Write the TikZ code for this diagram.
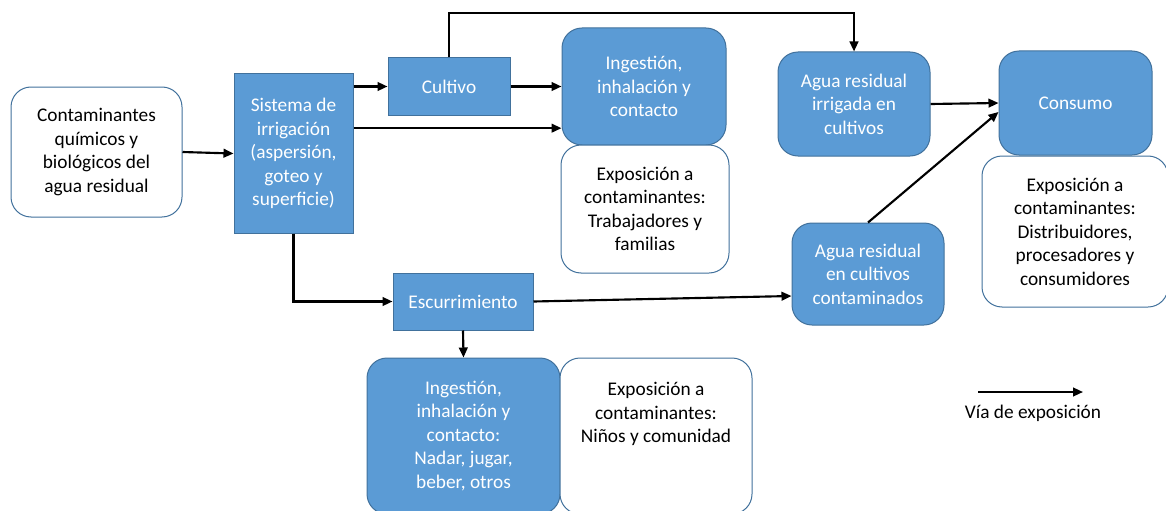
\documentclass[tikz,border=0pt]{standalone}
\usepackage{fontspec}
\setmainfont{Carlito}
\usetikzlibrary{arrows.meta}
\definecolor{boxblue}{HTML}{5B9BD5}
\definecolor{boxline}{HTML}{41719C}
\tikzset{
 txt/.style={font=\fontsize{14.5}{17.6}\selectfont,align=center,inner sep=2pt},
 bluebox/.style={txt,draw=boxline,fill=boxblue,text=white,line width=0.75pt},
 bluerbox/.style={bluebox,rounded corners=15pt},
 whitebox/.style={txt,draw=boxline,fill=white,text=black,line width=0.75pt,rounded corners=15pt},
 arr/.style={-{Triangle[length=7.5pt,width=6.5pt]},line width=1.6pt}
}
\begin{document}
\begin{tikzpicture}[x=0.75pt,y=-0.75pt]
 \useasboundingbox (0,0) rectangle (1166,510);
 \node[whitebox,minimum width=128.25pt,minimum height=97.5pt] (src) at (96.5,152) {Contaminantes\\químicos y\\biológicos del\\agua residual};
 \node[bluebox,minimum width=89.25pt,minimum height=119.25pt] (sis) at (293.5,153.5) {Sistema de\\irrigación\\(aspersión,\\goteo y\\superficie)};
 \node[bluebox,minimum width=91.5pt,minimum height=42.75pt] (cult) at (449,86.5) {Cultivo};
 \node[bluerbox,minimum width=123pt,minimum height=87.75pt] (ing1) at (644,86.5) {Ingestión,\\inhalación y\\contacto};
 \node[whitebox,minimum width=126pt,minimum height=96pt] (exp1) at (645,209) {Exposición a\\contaminantes:\\Trabajadores y\\familias};
 \node[bluerbox,minimum width=114pt,minimum height=78pt] (irr) at (854,104) {Agua residual\\irrigada en\\cultivos};
 \node[bluerbox,minimum width=114.75pt,minimum height=78pt] (cons) at (1075.5,103) {Consumo};
 \node[whitebox,minimum width=139.5pt,minimum height=113.25pt] (exp3) at (1075,231.5) {Exposición a\\contaminantes:\\Distribuidores,\\procesadores y\\consumidores};
 \node[bluerbox,minimum width=114pt,minimum height=76.5pt] (cont2) at (868,274) {Agua residual\\en cultivos\\contaminados};
 \node[bluebox,minimum width=105pt,minimum height=42.75pt] (esc) at (463,301.5) {Escurrimiento};
 \node[bluerbox,minimum width=144.75pt,minimum height=117pt] (ing2) at (463.5,436) {Ingestión,\\inhalación y\\contacto:\\Nadar, jugar,\\beber, otros};
 \node[whitebox,minimum width=144pt,minimum height=117pt] (exp2) at (656,436) {Exposición a\\contaminantes:\\Niños y comunidad\\\mbox{}\\\mbox{}};
 \coordinate (top) at (650,13);
 \coordinate (leg1) at (978,392);
 \coordinate (leg2) at (1083,392);
 \node[txt] (legtxt) at (1033,413) {Vía de exposición};
 \draw[arr] (src.east) -- (sis.west);
 \draw[arr] (sis.east |- cult.west) -- (cult.west);
 \draw[arr] ([yshift=19pt]sis.east) -- ([yshift=19pt]sis.east -| ing1.west);
 \draw[arr] (cult.east) -- (cult.east -| ing1.west);
 \draw[arr] (cult.north) |- (top) -| (irr.north);
 \draw[arr] (irr.east) -- (cons.west);
 \draw[arr] (cont2.north) -- ([yshift=-6.75pt]cons.west);
 \draw[arr] (sis.south) |- (esc.west);
 \draw[arr] (esc.east) -- ([yshift=-16.5pt]cont2.west);
 \draw[arr] (esc.south) -- (ing2.north);
 \draw[arr] (leg1) -- (leg2);
\end{tikzpicture}
\end{document}
